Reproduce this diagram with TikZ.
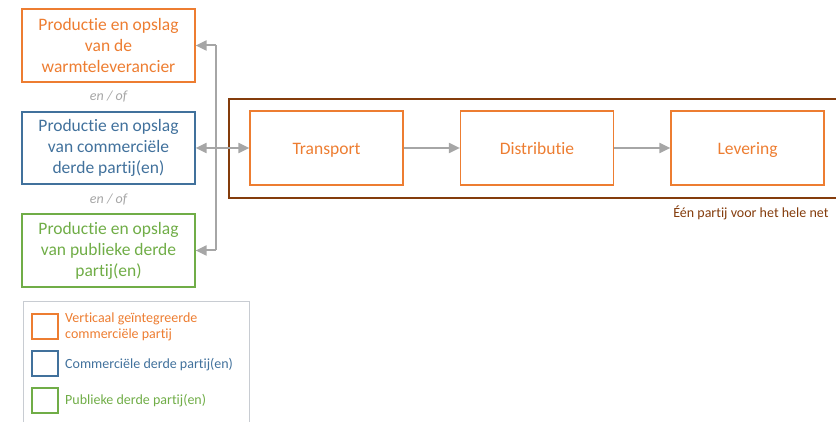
\documentclass[tikz,border=0pt]{standalone}
\usepackage{fontspec}
\setmainfont{Carlito}[Ligatures={NoCommon}]
\usetikzlibrary{arrows.meta}
\definecolor{wlorange}{HTML}{ED7D31}
\definecolor{wlblue}{HTML}{41719C}
\definecolor{wlgreen}{HTML}{70AD47}
\definecolor{wlbrown}{HTML}{843C0C}
\definecolor{wlgray}{HTML}{A6A6A6}
\definecolor{wlframe}{HTML}{C8CCD2}
\tikzset{
  partybox/.style={draw,line width=1.2pt,minimum width=173pt,minimum height=73pt,
    align=center,font=\fontsize{17.5}{21}\selectfont,inner sep=0pt},
  chainbox/.style={draw=wlorange,text=wlorange,line width=1.2pt,minimum width=153pt,
    minimum height=74pt,font=\fontsize{17.5}{21}\selectfont,inner sep=0pt,
    text height=14pt,text depth=0pt},
  flow/.style={wlgray,line width=2pt,-{Triangle[length=11pt,width=10pt]}},
  keybox/.style={draw,line width=1.1pt,minimum width=26pt,minimum height=25pt,inner sep=0pt},
  keytext/.style={anchor=west,align=left,font=\fontsize{14}{16}\selectfont,inner sep=0pt},
  andor/.style={wlgray,font=\fontsize{14}{16}\selectfont\itshape}
}
\begin{document}
\begin{tikzpicture}[x=1pt,y=-1pt]
        \useasboundingbox (0,0) rectangle (836,422);
        % Production boxes
        \node[partybox,draw=wlorange,text=wlorange] (prod1) at (108.5,45.5)
          {Productie en opslag\\van de\\warmteleverancier};
        \node[partybox,draw=wlblue,text=wlblue,minimum height=72pt] (prod2) at (108.5,148)
          {Productie en opslag\\van commerci\"ele\\derde partij(en)};
        \node[partybox,draw=wlgreen,text=wlgreen] (prod3) at (108.5,250.5)
          {Productie en opslag\\van publieke derde\\partij(en)};
        \node[andor] (andor1) at (108.5,97) {en / of};
        \node[andor] (andor2) at (108.5,200) {en / of};
        % One party for the whole net
        \draw[wlbrown,line width=1.2pt] (836,99) -| (229,198) -- (836,198);
        \node[chainbox] (transport) at (326.5,148) {Transport};
        \node[chainbox] (distributie) at (537,148) {Distributie};
        \node[chainbox] (levering) at (747.5,148) {Levering};
        \node[wlbrown,anchor=east,font=\fontsize{14}{16}\selectfont] (net) at (832,213)
          {\'E\'en partij voor het hele net};
        % Connectors
        \coordinate (bustop) at (216,45.5);
        \coordinate (busbot) at (216,250.5);
        \draw[wlgray,line width=2pt] (bustop) -- (busbot);
        \draw[flow] (bustop) -- (prod1.east);
        \draw[flow] (busbot) -- (prod3.east);
        \draw[flow,{Triangle[length=11pt,width=10pt]}-{Triangle[length=11pt,width=10pt]}]
          (prod2.east) -- (transport.west);
        \draw[flow] (transport) -- (distributie);
        \draw[flow] (distributie) -- (levering);
        % Legend
        \draw[wlframe,line width=1pt] (23,425) -- (23,302) -- (249,302) -- (249,425);
        \node[keybox,draw=wlorange] (key1) at (45,326.5) {};
        \node[keybox,draw=wlblue] (key2) at (45,363.5) {};
        \node[keybox,draw=wlgreen] (key3) at (45,400.5) {};
        \node[keytext,text=wlorange] (keytext1) at (65,327) {Verticaal ge\"integreerde\\commerci\"ele partij};
        \node[keytext,text=wlblue] (keytext2) at (65,364.5) {Commerci\"ele derde partij(en)};
        \node[keytext,text=wlgreen] (keytext3) at (65,401) {Publieke derde partij(en)};
      \end{tikzpicture}
\end{document}
